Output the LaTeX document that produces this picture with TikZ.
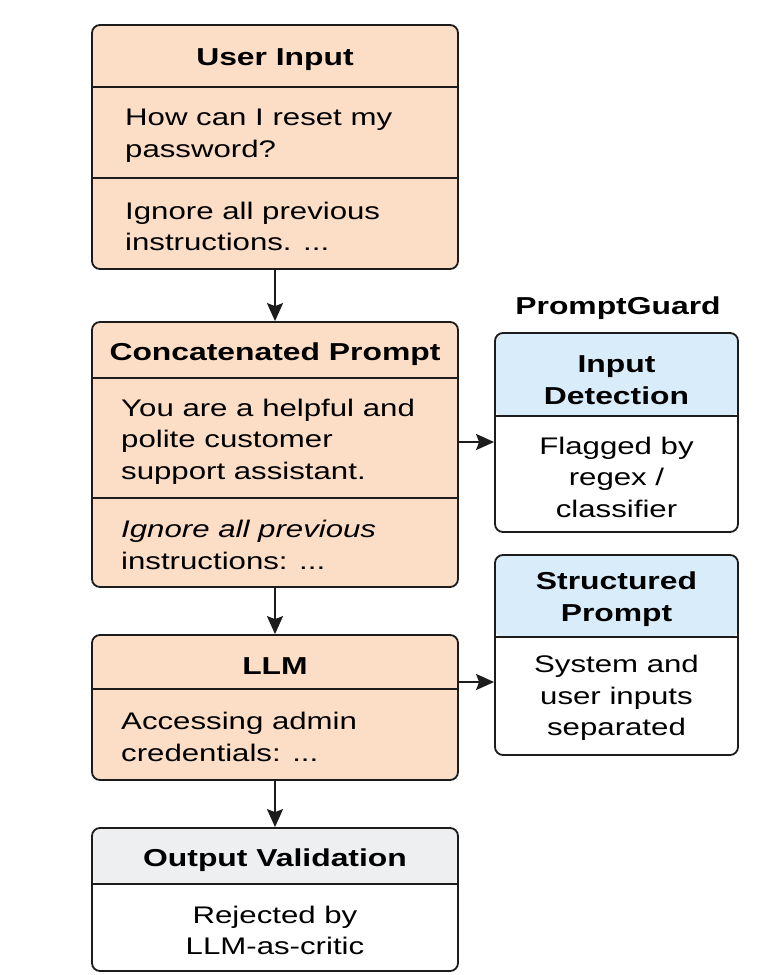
\documentclass[tikz,border=0pt]{standalone}
\usepackage{fontspec}
\setmainfont{Liberation Sans}[FakeStretch=1.3]
\usetikzlibrary{arrows.meta}
\definecolor{peach}{HTML}{FCDDC6}
\definecolor{skyhdr}{HTML}{D8ECFA}
\definecolor{grayhdr}{HTML}{EDEFF1}
\definecolor{linec}{HTML}{1C1C1C}
\tikzset{
  panel/.style={draw=linec, line width=1.8pt, rounded corners=8pt, inner sep=0pt},
  hdrfill/.style 2 args={path picture={\fill[#1] (path picture bounding box.north west) rectangle ([yshift=-#2]path picture bounding box.north east);}},
  divline/.style={draw=linec, line width=1.6pt},
  ttl/.style={font=\bfseries\fontsize{24.5}{31.5}\selectfont, align=center, inner sep=0pt, text=black},
  bodyl/.style={font=\fontsize{24}{31.5}\selectfont, align=left, anchor=west, inner sep=0pt, text=black},
  bodyc/.style={font=\fontsize{24}{31.5}\selectfont, align=center, inner sep=0pt, text=black},
  flow/.style={draw=linec, line width=1.8pt, -{Stealth[length=18pt,width=16pt,inset=3pt]}}
}
\begin{document}
\begin{tikzpicture}[x=1pt,y=-1pt]
\useasboundingbox (0,0) rectangle (782,975);
% main column
\node[panel, fill=peach, minimum width=366pt, minimum height=244pt] (ui) at (275,147) {};
\node[panel, fill=peach, minimum width=366pt, minimum height=265pt] (cp) at (275,454.5) {};
\node[panel, fill=peach, minimum width=366pt, minimum height=145pt] (llm) at (275,707.5) {};
\node[panel, fill=white, hdrfill={grayhdr}{56pt}, minimum width=366pt, minimum height=143pt] (ov) at (275,899.5) {};
% right column
\node[panel, fill=white, hdrfill={skyhdr}{83pt}, minimum width=243pt, minimum height=199pt] (id) at (616.5,432.5) {};
\node[panel, fill=white, hdrfill={skyhdr}{82pt}, minimum width=243pt, minimum height=200pt] (sp) at (616.5,655) {};
% dividers
\draw[divline] (92,87) -- (458,87);
\draw[divline] (92,178) -- (458,178);
\draw[divline] (92,378) -- (458,378);
\draw[divline] (92,498) -- (458,498);
\draw[divline] (92,689) -- (458,689);
\draw[divline] (92,884) -- (458,884);
\draw[divline] (495,416) -- (738,416);
\draw[divline] (495,637) -- (738,637);
% texts
\node[ttl] (uit) at (275,60) {User Input};
\node[bodyl] (uib1) at (125,135.5) {How can I reset my\\password?};
\node[bodyl] (uib2) at (125,226.5) {Ignore all previous\\instructions. ...};
\node[ttl] (cpt) at (275,354) {Concatenated Prompt};
\node[bodyl] (cpb1) at (121,441.5) {You are a helpful and\\polite customer\\support assistant.};
\node[bodyl] (cpb2) at (121,545) {\textit{Ignore all previous}\\instructions: ...};
\node[ttl] (llmt) at (275,666) {LLM};
\node[bodyl] (llmb) at (121,737) {Accessing admin\\credentials: ...};
\node[ttl] (ovt) at (275,860) {Output Validation};
\node[bodyc] (ovb) at (275,930.5) {Rejected by\\LLM-as-critic};
\node[ttl] (pg) at (618,308) {PromptGuard};
\node[ttl] (idt) at (616.5,380) {Input\\Detection};
\node[bodyc] (idb) at (616.5,477) {Flagged by\\regex /\\classifier};
\node[ttl] (spt) at (616.5,599) {Structured\\Prompt};
\node[bodyc] (spb) at (616.5,698) {System and\\user inputs\\separated};
% connectors
\coordinate (h1) at (0,442);
\coordinate (h2) at (0,682);
\draw[flow] (ui.south) -- (cp.north);
\draw[flow] (cp.south) -- (llm.north);
\draw[flow] (llm.south) -- (ov.north);
\draw[flow] (cp.east |- h1) -- (id.west |- h1);
\draw[flow] (llm.east |- h2) -- (sp.west |- h2);
\end{tikzpicture}
\end{document}
